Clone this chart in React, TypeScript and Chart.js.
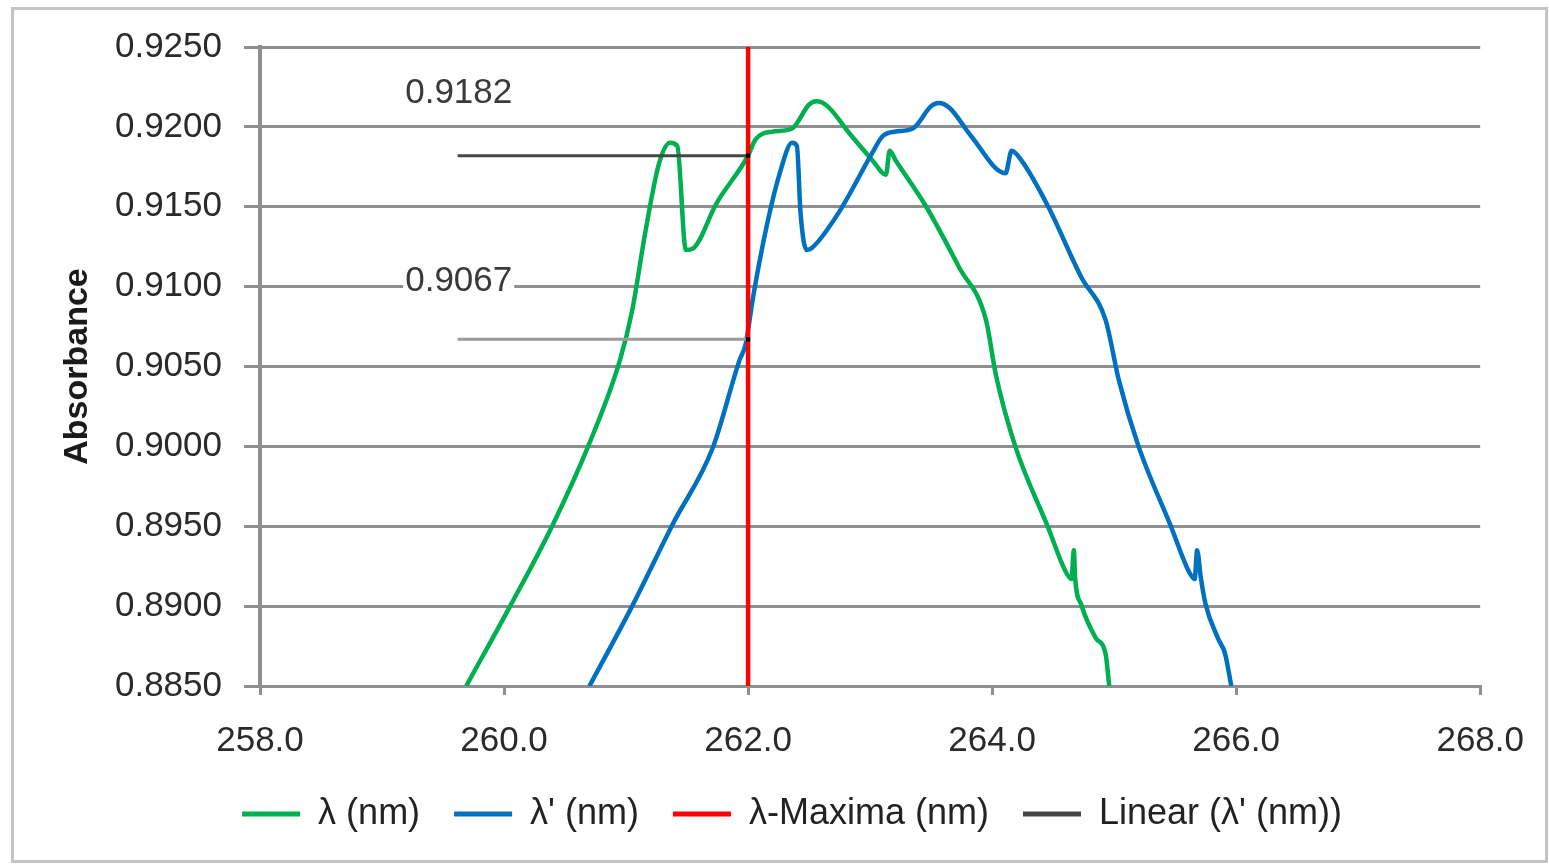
import React, { useEffect, useRef } from "react";
import { Chart, registerables } from "chart.js";

Chart.register(...registerables);

// Axis ranges / ticks
const xMin = 258;
const xMax = 268;
const xStep = 2;
const yMin = 0.885;
const yMax = 0.925;
const yStep = 0.005;
const yTitle = "Absorbance";

// λ (nm) – green
const lambdaX = [
  259.69, 260.05, 260.4, 260.7, 260.95, 261.05, 261.16, 261.27, 261.36, 261.42,
  261.49, 261.55, 261.74, 262.0, 262.06, 262.2, 262.36, 262.5, 262.56, 262.65,
  262.83, 263.02, 263.13, 263.16, 263.21, 263.46, 263.73, 263.95, 264.03, 264.19,
  264.46, 264.6, 264.65, 264.67, 264.68, 264.73, 264.85, 264.93, 264.96,
];
const lambdaY = [
  0.885, 0.89, 0.8951, 0.9002, 0.9054, 0.9085, 0.9135, 0.9177, 0.919, 0.9188,
  0.9123, 0.9124, 0.9152, 0.9182, 0.9192, 0.9197, 0.9199, 0.9214, 0.9216, 0.9213,
  0.9196, 0.9179, 0.917, 0.9185, 0.9179, 0.915, 0.9112, 0.9079, 0.9045, 0.9,
  0.8949, 0.8922, 0.8917, 0.8935, 0.8918, 0.8901, 0.888, 0.887, 0.885,
];

// λ' (nm) – blue
const lambdaPrimeX = [
  260.7, 261.05, 261.38, 261.71, 261.93, 261.98, 262.04, 262.15, 262.26, 262.36,
  262.4, 262.43, 262.48, 262.52, 262.74, 263.02, 263.1, 263.2, 263.35, 263.5,
  263.56, 263.65, 263.83, 264.11, 264.16, 264.24, 264.46, 264.73, 264.93, 265.04,
  265.2, 265.47, 265.61, 265.66, 265.68, 265.71, 265.75, 265.85, 265.91, 265.96,
];
const lambdaPrimeY = [
  0.885, 0.89, 0.8951, 0.8999, 0.9054, 0.9064, 0.9093, 0.9137, 0.9171, 0.919,
  0.9188, 0.9146, 0.9123, 0.9124, 0.9146, 0.9184, 0.9194, 0.9197, 0.9199, 0.9213,
  0.9215, 0.9212, 0.9194, 0.9171, 0.9185, 0.9179, 0.915, 0.9106, 0.9079, 0.9041,
  0.9, 0.8949, 0.8922, 0.8917, 0.8935, 0.8918, 0.8901, 0.888, 0.887, 0.885,
];

// λ-Maxima (nm) – red vertical
const maximaX = [262.0, 262.0];
const maximaY = [0.885, 0.925];

// Linear (λ' (nm)) – horizontal read-off lines
const linearUpperX = [259.62, 262.0];
const linearUpperY = [0.9182, 0.9182];
const linearLowerX = [259.62, 262.0];
const linearLowerY = [0.9067, 0.9067];

// Annotation labels
const annotationTexts = ["0.9182", "0.9067"];
const annotationX = [259.19, 259.19];
const annotationY = [0.9221, 0.9103];

const seriesLabels = ["λ (nm)", "λ' (nm)", "λ-Maxima (nm)", "Linear (λ' (nm))"];

const toPoints = (xs: number[], ys: number[]) => xs.map((x, i) => ({ x, y: ys[i] }));

const FONT = "'Liberation Sans', Arial, sans-serif";

const annotationPlugin = {
  id: "annotationLabels",
  afterDatasetsDraw(chart: any) {
    const { ctx, scales } = chart;
    const xs = scales.x;
    const ys = scales.y;
    ctx.save();
    ctx.font = `35px ${FONT}`;
    ctx.textAlign = "left";
    ctx.textBaseline = "middle";
    annotationTexts.forEach((t, i) => {
      const px = xs.getPixelForValue(annotationX[i]);
      const py = ys.getPixelForValue(annotationY[i]);
      const w = ctx.measureText(t).width;
      ctx.fillStyle = "#ffffff";
      ctx.fillRect(px - 2, py - 16, w + 4, 30);
      ctx.fillStyle = "#3a3a3a";
      ctx.fillText(t, px, py);
    });
    ctx.restore();
  },
  afterDraw(chart: any) {
    const { ctx, chartArea } = chart;
    ctx.save();
    ctx.translate(78, (chartArea.top + chartArea.bottom) / 2);
    ctx.rotate(-Math.PI / 2);
    ctx.font = `bold 34px ${FONT}`;
    ctx.fillStyle = "#1a1a1a";
    ctx.textAlign = "center";
    ctx.textBaseline = "middle";
    ctx.fillText(yTitle, 0, 0);
    ctx.restore();
  },
};

export default function App() {
  const canvasRef = useRef<HTMLCanvasElement | null>(null);

  useEffect(() => {
    if (!canvasRef.current) return;
    Chart.defaults.font.family = FONT;
    const gridColor = "#8f8f8f";
    const chart = new Chart(canvasRef.current, {
      type: "line",
      data: {
        datasets: [
          {
            label: seriesLabels[0],
            data: toPoints(lambdaX, lambdaY),
            borderColor: "#00b050",
            backgroundColor: "#00b050",
            borderWidth: 4.5,
            pointRadius: 0,
            cubicInterpolationMode: "monotone",
            order: 3,
          },
          {
            label: seriesLabels[1],
            data: toPoints(lambdaPrimeX, lambdaPrimeY),
            borderColor: "#0070c0",
            backgroundColor: "#0070c0",
            borderWidth: 4.5,
            pointRadius: 0,
            cubicInterpolationMode: "monotone",
            order: 2,
          },
          {
            label: seriesLabels[2],
            data: toPoints(maximaX, maximaY),
            borderColor: "#ff0000",
            backgroundColor: "#ff0000",
            borderWidth: 4.5,
            pointRadius: 0,
            order: 1,
          },
          {
            label: seriesLabels[3],
            data: toPoints(linearUpperX, linearUpperY),
            borderColor: "#454545",
            backgroundColor: "#000000",
            borderWidth: 3,
            pointRadius: [0, 3],
            pointStyle: "rect",
            pointBackgroundColor: "#000000",
            pointBorderWidth: 0,
            order: 0,
          },
          {
            label: "Linear lower",
            data: toPoints(linearLowerX, linearLowerY),
            borderColor: "#9a9a9a",
            backgroundColor: "#9a9a9a",
            borderWidth: 3,
            pointRadius: [0, 3],
            pointStyle: "rect",
            pointBackgroundColor: "#000000",
            pointBorderWidth: 0,
            order: 0,
          },
        ],
      },
      options: {
        responsive: false,
        animation: false,
        layout: { padding: { left: 100, top: 47, right: 65, bottom: 22 } },
        scales: {
          x: {
            type: "linear",
            min: xMin,
            max: xMax,
            afterFit: (scale: any) => {
              scale.height = 76;
            },
            ticks: {
              stepSize: xStep,
              callback: (v: any) => Number(v).toFixed(1),
              font: { size: 35 },
              color: "#2a2a2a",
              padding: 25,
              maxRotation: 0,
            },
            grid: {
              display: true,
              drawOnChartArea: false,
              drawTicks: true,
              tickLength: 9,
              color: gridColor,
              lineWidth: 3,
            },
            border: { display: true, color: gridColor, width: 3 },
          },
          y: {
            type: "linear",
            min: yMin,
            max: yMax,
            afterFit: (scale: any) => {
              scale.width = 160;
            },
            ticks: {
              stepSize: yStep,
              callback: (v: any) => Number(v).toFixed(4),
              font: { size: 35 },
              color: "#2a2a2a",
              padding: 22,
            },
            grid: {
              color: gridColor,
              lineWidth: 3,
              drawTicks: true,
              tickLength: 16,
            },
            border: { display: true, color: gridColor, width: 4 },
            title: { display: false },
          },
        },
        plugins: {
          legend: {
            display: true,
            position: "bottom",
            labels: {
              boxWidth: 58,
              boxHeight: 5,
              padding: 34,
              color: "#222222",
              font: { size: 36 },
              generateLabels: (c: any) => {
                const items = (Chart as any).defaults.plugins.legend.labels.generateLabels(c);
                return items
                  .filter((it: any) => it.datasetIndex !== 4)
                  .sort((a: any, b: any) => a.datasetIndex - b.datasetIndex)
                  .map((it: any) => ({ ...it, fillStyle: it.strokeStyle, lineWidth: 0 }));
              },
            },
          },
          tooltip: { enabled: false },
        },
      },
      plugins: [annotationPlugin],
    } as any);
    return () => chart.destroy();
  }, []);

  return (
    <>
      <div
        style={{
          position: "absolute",
          left: 11,
          top: 7,
          width: 1537,
          height: 856,
          boxSizing: "border-box",
          border: "3px solid #c4c4c4",
          background: "#ffffff",
        }}
      />
      <div style={{ position: "absolute", left: 0, top: 0, width: 1549, height: 864 }}>
        <canvas ref={canvasRef} width={1549} height={864} style={{ display: "block" }} />
      </div>
    </>
  );
}
